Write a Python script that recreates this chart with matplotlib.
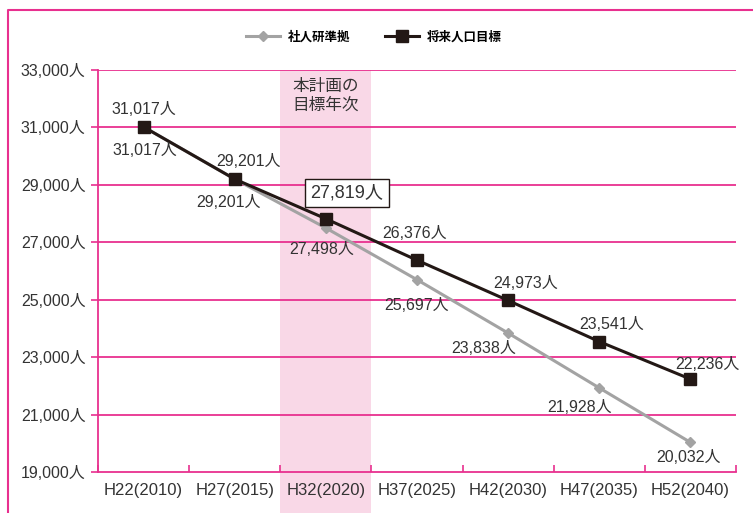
import matplotlib
matplotlib.use("Agg")
import matplotlib.pyplot as plt
from matplotlib.patches import Rectangle
from matplotlib.lines import Line2D
import matplotlib.transforms as mtransforms

plt.rcParams['font.family'] = ['Liberation Sans', 'Noto Sans CJK JP']

# データ
years = ['H22(2010)', 'H27(2015)', 'H32(2020)', 'H37(2025)', 'H42(2030)', 'H47(2035)', 'H52(2040)']
shajinken = [31017, 29201, 27498, 25697, 23838, 21928, 20032]
mokuhyo = [31017, 29201, 27819, 26376, 24973, 23541, 22236]
yticks = [19000, 21000, 23000, 25000, 27000, 29000, 31000, 33000]

pink = '#e8308f'
band = '#f9d8e7'
black = '#231815'
gray = '#a3a3a3'
txt = '#333333'

fig = plt.figure(figsize=(7.53, 5.13), dpi=100)
ax = fig.add_axes([98 / 753, 1 - 472 / 513, (736 - 98) / 753, 402 / 513])

x = list(range(len(years)))

# 本計画の目標年次の帯
trans = mtransforms.blended_transform_factory(ax.transData, ax.transAxes)
ax.add_patch(Rectangle((1.5, -0.11), 1.0, 1.11, transform=trans,
                       facecolor=band, edgecolor='none', zorder=0, clip_on=False))
ax.text(2, 0.935, '本計画の\n目標年次', transform=trans, ha='center', va='center',
        fontsize=12, color=txt, linespacing=1.1, family=['Noto Sans CJK JP'])

ax.plot(x, shajinken, color=gray, lw=2.2, marker='D', ms=5.5, zorder=3, label='社人研準拠')
ax.plot(x, mokuhyo, color=black, lw=2.2, marker='s', ms=9, zorder=4, label='将来人口目標')

# ラベル（将来人口目標: 上）
up_off = [(0, 17), (14, 18), (21, 26), (-2, 27), (17, 17), (12, 17), (17, 15)]
for i, (v, off) in enumerate(zip(mokuhyo, up_off)):
    if i == 2:
        ax.annotate(f'{v:,}人', (i, v), xytext=off, textcoords='offset pixels',
                    ha='center', va='center', fontsize=13, color=txt, zorder=6,
                    bbox=dict(boxstyle='square,pad=0.3', fc='white', ec=black, lw=1))
    else:
        ax.annotate(f'{v:,}人', (i, v), xytext=off, textcoords='offset pixels',
                    ha='center', va='center', fontsize=11.5, color=txt, zorder=6)

# ラベル（社人研準拠: 下）
dn_off = [(1, -24), (-6, -23), (-4, -22), (0, -26), (-24, -15), (-20, -20), (-2, -15)]
for i, (v, off) in enumerate(zip(shajinken, dn_off)):
    ax.annotate(f'{v:,}人', (i, v), xytext=off, textcoords='offset pixels',
                ha='center', va='center', fontsize=11.5, color=txt, zorder=6)

ax.set_xlim(-0.5, len(years) - 0.5)
ax.set_ylim(19000, 33000)
ax.set_yticks(yticks)
ax.set_yticklabels([f'{v:,}人' for v in yticks])
ax.set_xticks([i - 0.5 for i in range(len(years) + 1)])
ax.set_xticklabels([])
ax.set_xticks(x, minor=True)
ax.set_xticklabels(years, minor=True)
ax.tick_params(axis='x', which='minor', length=0, pad=8, labelsize=12, labelcolor=txt)
ax.tick_params(axis='x', which='major', direction='in', length=5, color=pink, width=1.2)
ax.tick_params(axis='y', direction='out', length=5, color=pink, width=1.2,
               labelsize=11.5, labelcolor=txt, pad=4)

for y in yticks[1:]:
    ax.axhline(y, color=pink, lw=1.3, zorder=1.5)

for s in ['top', 'right']:
    ax.spines[s].set_visible(False)
for s in ['left', 'bottom']:
    ax.spines[s].set_color(pink)
    ax.spines[s].set_linewidth(1.3)

# 外枠
fig.add_artist(Line2D([8 / 753, 8 / 753, 1.0], [0, 1 - 10 / 513, 1 - 10 / 513],
                      transform=fig.transFigure, color=pink, lw=1.5))

fig.legend(loc='center', bbox_to_anchor=(374 / 753, 1 - 37 / 513), ncol=2, frameon=False,
           handlelength=2.7, handletextpad=0.65, columnspacing=2.8,
           prop={'family': 'Noto Sans CJK JP', 'weight': 'bold', 'size': 9})

fig.savefig('out.png', dpi=100)
